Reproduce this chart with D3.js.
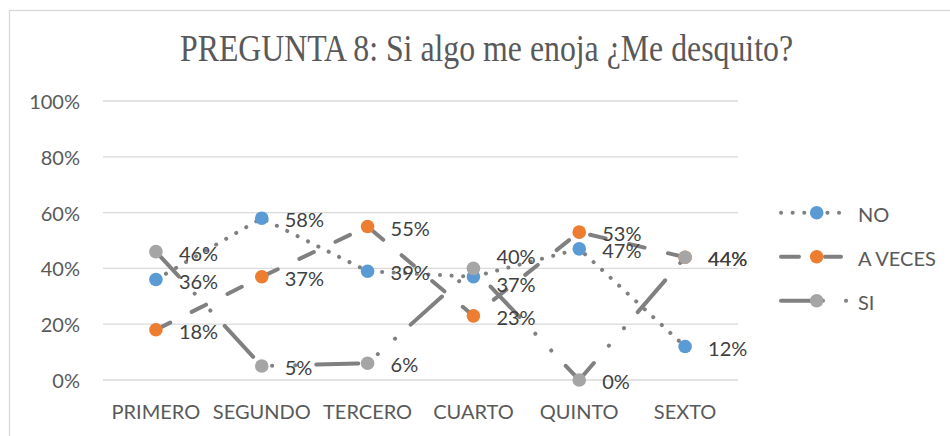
<!DOCTYPE html>
<html>
<head>
<meta charset="utf-8">
<title>PREGUNTA 8</title>
<script src="https://d3js.org/d3.v7.min.js"></script>
<style>
  body { margin: 0; background: #fff; }
  svg text { font-family: Lato, "Open Sans", sans-serif; }
</style>
</head>
<body>
<div id="chart"></div>
<script type="text/javascript">
// data
var categories = ["PRIMERO", "SEGUNDO", "TERCERO", "CUARTO", "QUINTO", "SEXTO"];
var seriesNames = ["NO", "A VECES", "SI"];
var valuesNo = [36, 58, 39, 37, 47, 12];
var valuesAveces = [18, 37, 55, 23, 53, 44];
var valuesSi = [46, 5, 6, 40, 0, 44];
var yTicks = [0, 20, 40, 60, 80, 100];
var chartTitle = "PREGUNTA 8: Si algo me enoja ¿Me desquito?";

var width = 950, height = 436;
var margin = { top: 101, right: 212, bottom: 56, left: 103 };

var markerColors = ["#5B9BD5", "#ED7D31", "#A5A5A5"];
var lineColor = "#808080";
// dot / dash / long dash dot dot
var dashes = ["0.1 11.5", "16 24", "42 23 0.1 23 0.1 21"];

var svg = d3.select("#chart").append("svg")
  .attr("width", width)
  .attr("height", height);

// chart frame
svg.append("rect")
  .attr("x", 9.5).attr("y", 10.5)
  .attr("width", 980).attr("height", 480)
  .attr("fill", "#fff")
  .attr("stroke", "#d9d9d9")
  .attr("stroke-width", 1.3);

svg.append("text")
  .attr("x", 486.5)
  .attr("y", 61)
  .attr("text-anchor", "middle")
  .attr("textLength", 613)
  .attr("lengthAdjust", "spacingAndGlyphs")
  .style("font-family", "'Liberation Serif', 'Times New Roman', serif")
  .style("font-size", "38px")
  .attr("fill", "#595959")
  .text(chartTitle);

var x = d3.scaleBand()
  .domain(categories)
  .range([margin.left, width - margin.right])
  .padding(0);

var y = d3.scaleLinear()
  .domain([0, 100])
  .range([height - margin.bottom, margin.top]);

function cx(d, i) { return x(categories[i]) + x.bandwidth() / 2; }

// gridlines
svg.append("g").selectAll("line")
  .data(yTicks)
  .enter().append("line")
  .attr("x1", margin.left)
  .attr("x2", width - margin.right)
  .attr("y1", function (d) { return y(d); })
  .attr("y2", function (d) { return y(d); })
  .attr("stroke", "#d9d9d9")
  .attr("stroke-width", 1.3);

// y labels
svg.append("g").selectAll("text")
  .data(yTicks)
  .enter().append("text")
  .attr("x", 80)
  .attr("y", function (d) { return y(d); })
  .attr("text-anchor", "end")
  .attr("dominant-baseline", "central")
  .attr("fill", "#595959")
  .style("font-size", "20px")
  .text(function (d) { return d + "%"; });

// x labels
svg.append("g").selectAll("text")
  .data(categories)
  .enter().append("text")
  .attr("x", function (d) { return x(d) + x.bandwidth() / 2; })
  .attr("y", 411)
  .attr("text-anchor", "middle")
  .attr("dominant-baseline", "central")
  .attr("fill", "#595959")
  .style("font-size", "20px")
  .text(function (d) { return d; });

var allSeries = [valuesNo, valuesAveces, valuesSi];

var line = d3.line()
  .x(cx)
  .y(function (d) { return y(d); });

allSeries.forEach(function (vals, s) {
  svg.append("path")
    .datum(vals)
    .attr("d", line)
    .attr("fill", "none")
    .attr("stroke", lineColor)
    .attr("stroke-width", 4)
    .attr("stroke-linecap", "round")
    .attr("stroke-dasharray", dashes[s])
    .attr("stroke-dashoffset", s == 2 ? 8 : 0);

  svg.append("g").selectAll("circle")
    .data(vals)
    .enter().append("circle")
    .attr("cx", cx)
    .attr("cy", function (d) { return y(d); })
    .attr("r", 6.8)
    .attr("fill", markerColors[s]);
});

// excel pushes the crowded CUARTO labels apart
function nudge(s, i) {
  if (categories[i] == "CUARTO" && s == 2) return -13;
  if (categories[i] == "CUARTO" && s == 0) return 6;
  return 0;
}

// data labels on top
allSeries.forEach(function (vals, s) {
  svg.append("g").selectAll("text")
    .data(vals)
    .enter().append("text")
    .attr("x", function (d, i) { return cx(d, i) + 23; })
    .attr("y", function (d, i) { return y(d) + 1 + nudge(s, i); })
    .attr("dominant-baseline", "central")
    .attr("fill", "#404040")
    .style("font-size", "20px")
    .text(function (d) { return d + "%"; });
});

// legend
var legend = svg.append("g").selectAll("g")
  .data(seriesNames)
  .enter().append("g")
  .attr("transform", function (d, i) { return "translate(0," + (212.7 + i * 44) + ")"; });

legend.append("line")
  .attr("x1", 781).attr("x2", function (d, i) { return i == 2 ? 847 : 841; })
  .attr("y1", 0).attr("y2", 0)
  .attr("stroke", lineColor)
  .attr("stroke-width", 4)
  .attr("stroke-linecap", "round")
  .attr("stroke-dasharray", function (d, i) { return i == 1 ? "18 26" : dashes[i]; });

legend.append("circle")
  .attr("cx", 816.7)
  .attr("cy", 0)
  .attr("r", 6.8)
  .attr("fill", function (d, i) { return markerColors[i]; });

legend.append("text")
  .attr("x", 858)
  .attr("y", 1)
  .attr("dominant-baseline", "central")
  .attr("fill", "#595959")
  .style("font-size", "20px")
  .text(function (d) { return d; });
</script>
</body>
</html>
